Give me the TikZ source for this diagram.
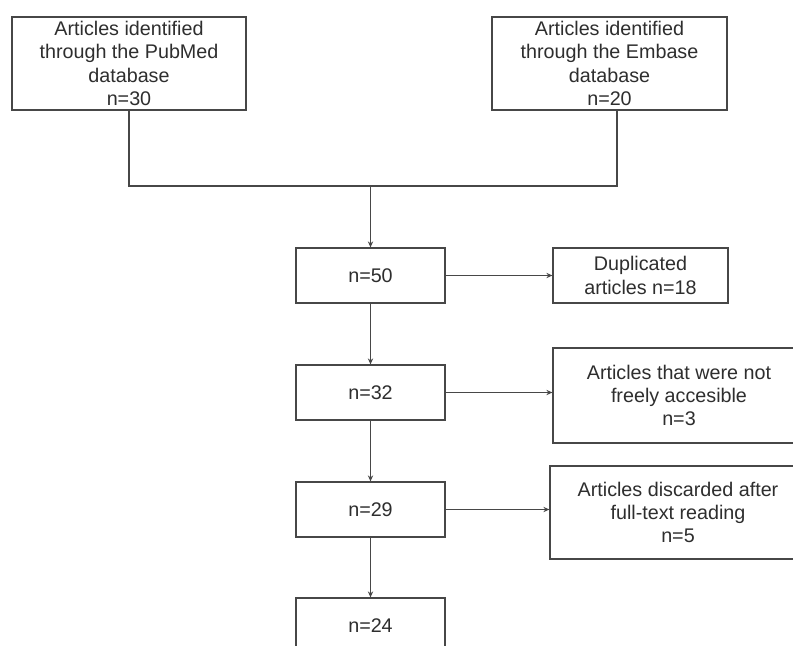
\documentclass[tikz,border=0pt]{standalone}
\usepackage{fontspec}
\setmainfont{Liberation Sans}
\usepackage{tikz}
\usetikzlibrary{arrows.meta}
\usetikzlibrary{calc}
\usetikzlibrary{positioning}

\definecolor{linegray}{HTML}{474747}
\definecolor{textgray}{HTML}{2E2E2E}

\begin{document}
\begin{tikzpicture}[x=0.75pt,y=-0.75pt,>={Stealth[length=4.5pt,width=4pt]},line width=0.9pt,draw=linegray]
	\tikzstyle{box}=[draw=linegray, fill=white, text=textgray, align=center, inner sep=2pt,
		font=\fontsize{14.8}{17.5}\selectfont]
	\tikzstyle{small box}=[box, minimum width=111.75pt, minimum height=41.25pt]
	\useasboundingbox (0,0) rectangle (793,646);
	\clip (0,0) rectangle (793,646);
	% sources
	\node[box, minimum width=175.5pt, minimum height=69.75pt]  (pub) at (129,63.5)
		{Articles identified\\through the PubMed\\database\\n=30};
	\node[box, minimum width=176.25pt, minimum height=69.75pt] (emb) at (609.5,63.5)
		{Articles identified\\through the Embase\\database\\n=20};
	% main column
	\node[small box] (n50) at (370.5,275.5) {n=50};
	\node[small box] (n32) at (370.5,392.5) {n=32};
	\node[small box] (n29) at (370.5,509.5) {n=29};
	\node[small box] (n24) at (370.5,625.5) {n=24};
	% excluded
	\node[box, minimum width=131.25pt, minimum height=41.25pt] (dup) at (640.5,275.5)
		{Duplicated\\articles n=18};
	\node[box, minimum width=189pt, minimum height=71.25pt] (notfree) at (679,395.5)
		{Articles that were not\\freely accesible\\n=3};
	\node[box, minimum width=192pt, minimum height=69.75pt] (disc) at (678,512.5)
		{Articles discarded after\\full-text reading\\n=5};
	% joining the two databases
	\coordinate (embdrop) at ([xshift=5.6pt]emb.south);
	\coordinate (join) at (n50.north |- 0,186);
	\draw (pub.south) |- (join) -| (embdrop);
	\path[->]
		(join) edge (n50.north)
		(n50) edge (n32)
		(n32) edge (n29)
		(n29) edge (n24)
		(n50.east) edge (dup.west)
		(n32.east) edge (n32.east -| notfree.west)
		(n29.east) edge (n29.east -| disc.west);
\end{tikzpicture}
\end{document}
